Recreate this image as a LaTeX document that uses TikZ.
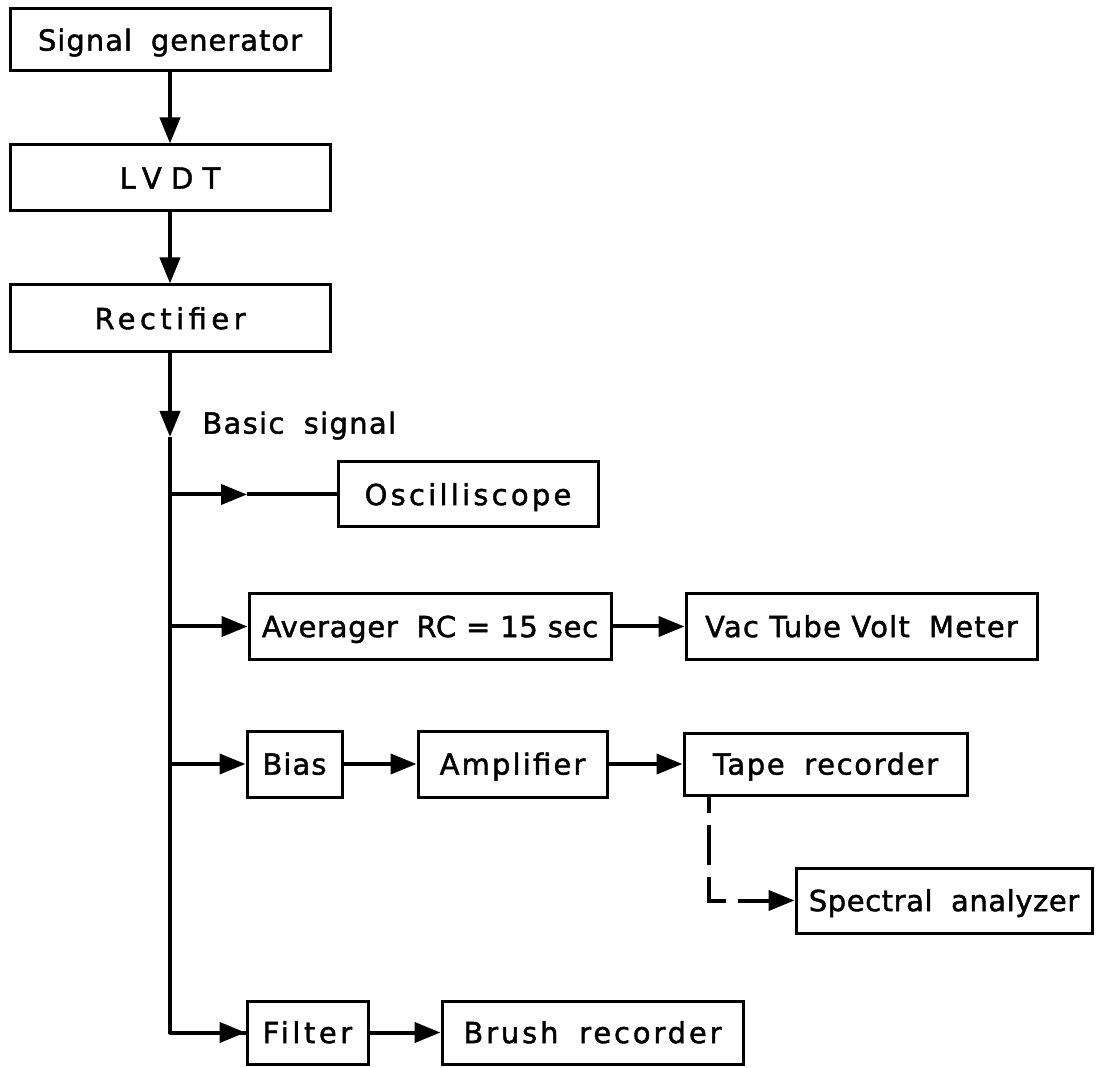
\documentclass[tikz,border=0pt]{standalone}
\usepackage{fontspec}
\setmainfont[FakeBold=1.5]{DejaVu Sans}
\usetikzlibrary{arrows.meta}

% label size (pt) and matching cap height
\def\fsz{14.5}
\def\capht{10.6pt}

% spread a label to a given width (in picture units) by letter spacing
\newlength\natw
\newcommand\spreadtext[3]{%
  \settowidth\natw{#3}%
  \pgfmathsetmacro\lsp{((#1)*0.5-\natw)/(#2)/\fsz*100}%
  \edef\tmpfeat{\noexpand\addfontfeature{LetterSpace=\lsp}}\tmpfeat #3}
% wide word gap of the lettering
\newcommand\wg{\hspace{0.3em}\ }

\begin{document}
\begin{tikzpicture}[x=0.5pt,y=-0.5pt,
  blk/.style={draw, line width=1.5pt, inner sep=0pt, text height=\capht,
    text depth=0pt, font=\fontsize{\fsz}{17}\selectfont},
  lbl/.style={inner sep=0pt, text height=\capht, text depth=0pt,
    font=\fontsize{\fsz}{17}\selectfont},
  wire/.style={line width=2pt},
  arr/.style={wire, -{Triangle[length=13pt,width=10pt]}},
  dsh/.style={arr, dash pattern=on 20pt off 6pt, dash phase=11pt},
]
\useasboundingbox (0,0) rectangle (1102,1068);

% main chain
\node[blk, minimum width=160pt, minimum height=31pt] (sg) at (170,40)
  {\spreadtext{265}{15}{Signal\wg generator}};
\node[blk, minimum width=160pt, minimum height=33pt] (lvdt) at (170,178)
  {\spreadtext{110}{4}{LVDT}};
\node[blk, minimum width=160pt, minimum height=33.5pt] (rect) at (170,318.5)
  {\spreadtext{160}{9}{Rectifier}};

\node[lbl, anchor=west] (bsig) at (202,423) {\spreadtext{195}{11}{Basic\wg signal}};

% branches
\node[blk, minimum width=130pt, minimum height=32.5pt] (osc) at (468,494.5)
  {\spreadtext{210}{12}{Oscilliscope}};
\node[blk, minimum width=181pt, minimum height=33pt] (avg) at (430,626.5)
  {\spreadtext{337}{16}{Averager\wg RC = 15 sec}};
\node[blk, minimum width=175.5pt, minimum height=32.5pt] (vtvm) at (861.5,626.5)
  {\spreadtext{314}{16}{Vac Tube Volt\wg Meter}};
\node[blk, minimum width=47.5pt, minimum height=33pt] (bias) at (294.5,764)
  {\spreadtext{65}{4}{Bias}};
\node[blk, minimum width=94.5pt, minimum height=33pt] (amp) at (512.5,764)
  {\spreadtext{150}{9}{Amplifier}};
\node[blk, minimum width=141.5pt, minimum height=31pt] (tape) at (825.5,764)
  {\spreadtext{227}{12}{Tape\wg recorder}};
\node[blk, minimum width=148pt, minimum height=32.5pt] (spec) at (944,900.5)
  {\spreadtext{271}{16}{Spectral\wg analyzer}};
\node[blk, minimum width=60.5pt, minimum height=31.5pt] (filt) at (307.5,1032.5)
  {\spreadtext{93}{6}{Filter}};
\node[blk, minimum width=150.5pt, minimum height=31.5pt] (brush) at (592.5,1032.5)
  {\spreadtext{261}{13}{Brush\wg recorder}};

% junction points on the trunk
\coordinate (bs) at (170,437);
\coordinate (jo) at (170,494.5);
\coordinate (oa) at (247,494.5);
\coordinate (ja) at (170,626.5);
\coordinate (jb) at (170,764);
\coordinate (jf) at (170,1032.5);
\coordinate (tp) at (709,795);
\coordinate (tc) at (709,900.5);

\draw[arr] (sg.south) -- (lvdt.north);
\draw[arr] (lvdt.south) -- (rect.north);
\draw[arr] (rect.south) -- (bs);
\draw[wire, line join=round] (bs) -- (jf) -- (filt.west);
\draw[arr] (jf) -- (filt.west);
\draw[arr] (jo) -- (oa);
\draw[wire] (oa) -- (osc.west);
\draw[arr] (ja) -- (avg.west);
\draw[arr] (jb) -- (bias.west);
\draw[arr] (avg.east) -- (vtvm.west);
\draw[arr] (bias.east) -- (amp.west);
\draw[arr] (amp.east) -- (tape.west);
\draw[arr] (filt.east) -- (brush.west);
\draw[dsh] (tp) -- (tc) -- (spec.west);
\end{tikzpicture}
\end{document}
